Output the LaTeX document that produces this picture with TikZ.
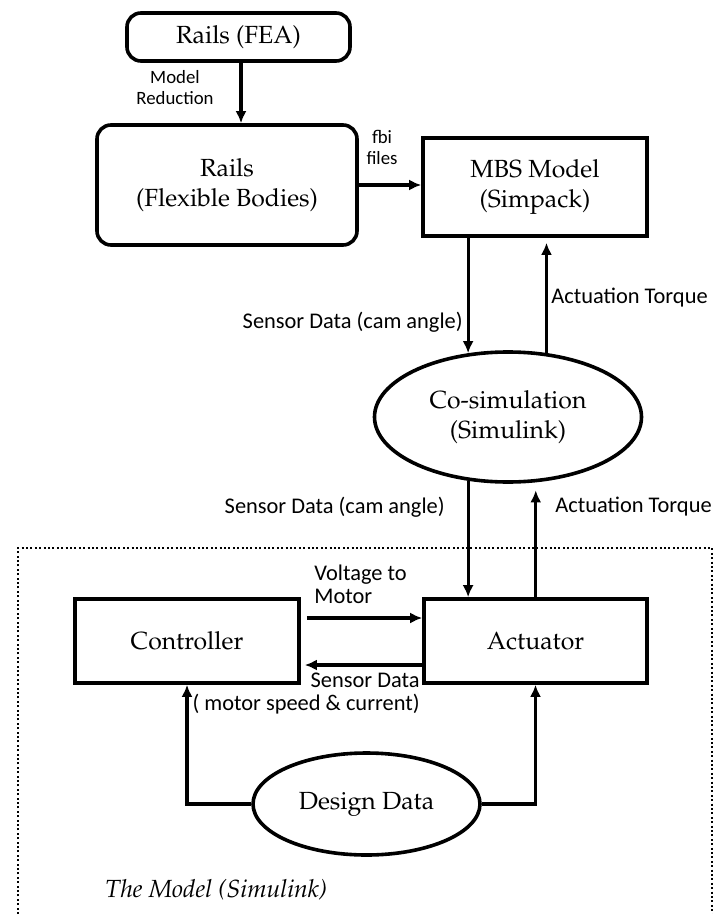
\documentclass[tikz,border=0pt]{standalone}
\usepackage[T1]{fontenc}
\usepackage{fontspec}
\newfontfamily\carl{Carlito}
\newcommand\pal{\fontencoding{T1}\fontfamily{ppl}\selectfont}
\usetikzlibrary{arrows.meta,shapes.geometric}
\tikzset{
  box/.style={draw, line width=1.8pt, inner sep=0pt, align=center,
    font={\pal\fontsize{12.4}{15}\selectfont}},
  rbox/.style={box, rounded corners=7pt},
  ell/.style={box, ellipse},
  lab/.style={font={\carl\fontsize{11.2}{11.5}\selectfont}, inner sep=0pt},
  slab/.style={font={\carl\fontsize{9.4}{10.5}\selectfont}, inner sep=0pt, align=center},
  arr/.style={line width=1.6pt, -{Latex[length=6pt,width=5.5pt]}},
  frame/.style={line width=1.4pt, dash pattern=on 1pt off 1.2pt},
}
\begin{document}
\begin{tikzpicture}[x=0.5pt,y=-0.5pt]
\useasboundingbox (0,0) rectangle (715,914);
% boxes
\node[rbox, minimum width=111.5pt, minimum height=24pt] (fea) at (238.5,37) {Rails (FEA)};
\node[rbox, minimum width=130pt, minimum height=60pt] (fb) at (227,185) {Rails\\(Flexible Bodies)};
\node[box, minimum width=112pt, minimum height=49pt] (mbs) at (535,187) {MBS Model\\(Simpack)};
\node[ell, minimum width=133.5pt, minimum height=65pt] (cos) at (508,417) {Co-simulation\\(Simulink)};
\node[box, minimum width=112pt, minimum height=42pt] (ctrl) at (187,641) {Controller};
\node[box, minimum width=111.5pt, minimum height=42pt] (act) at (535.5,641) {Actuator};
\node[ell, minimum width=113.5pt, minimum height=51pt] (dd) at (366.5,804) {Design Data};
% frame
\draw[frame] (18,914) -- (18,548) -- (712,548) -- (712,914);
\node[anchor=west, inner sep=0pt, font={\pal\itshape\fontsize{12.4}{15}\selectfont}] (model) at (105,890) {The Model (Simulink)};
% connectors
\coordinate (c1) at (241,0);
\draw[arr] (fea.south -| c1) -- (fb.north -| c1);
\draw[arr] (fb.east) -- (fb.east -| mbs.west);
\draw[arr] (mbs.south -| cos.122) -- (cos.122);
\draw[arr, shorten >=2.5pt] (cos.59) -- (cos.59 |- mbs.south);
\draw[arr] (cos.238) -- (cos.238 |- act.north);
\draw[arr, shorten >=4pt] (act.north -| cos.293) -- (cos.293);
\draw[arr] ([shift={(3pt,11.5pt)}]ctrl.east) -- ([yshift=11.5pt]act.west);
\draw[arr] ([yshift=-12pt]act.west) -- ([shift={(2pt,-12pt)}]ctrl.east);
\draw[arr] (dd.west) -| (ctrl.south);
\draw[arr] (dd.east) -| (act.south);
% labels
\node[slab] (l1) at (175,88) {Model\\Reduction};
\node[slab] (l2) at (382,147) {fbi\\files};
\node[lab, anchor=east] (l3) at (463,322) {Sensor Data (cam angle)};
\node[lab, anchor=west] (l4) at (551,298) {Actuation Torque};
\node[lab, anchor=east] (l5) at (445,507) {Sensor Data (cam angle)};
\node[lab, anchor=west] (l6) at (555,507) {Actuation Torque};
\node[lab, anchor=west, align=left] (l7) at (314,584) {Voltage to\\Motor};
\node[lab, anchor=east, align=right] (l8) at (420,694) {Sensor Data\\( motor speed \& current)};
\end{tikzpicture}
\end{document}
